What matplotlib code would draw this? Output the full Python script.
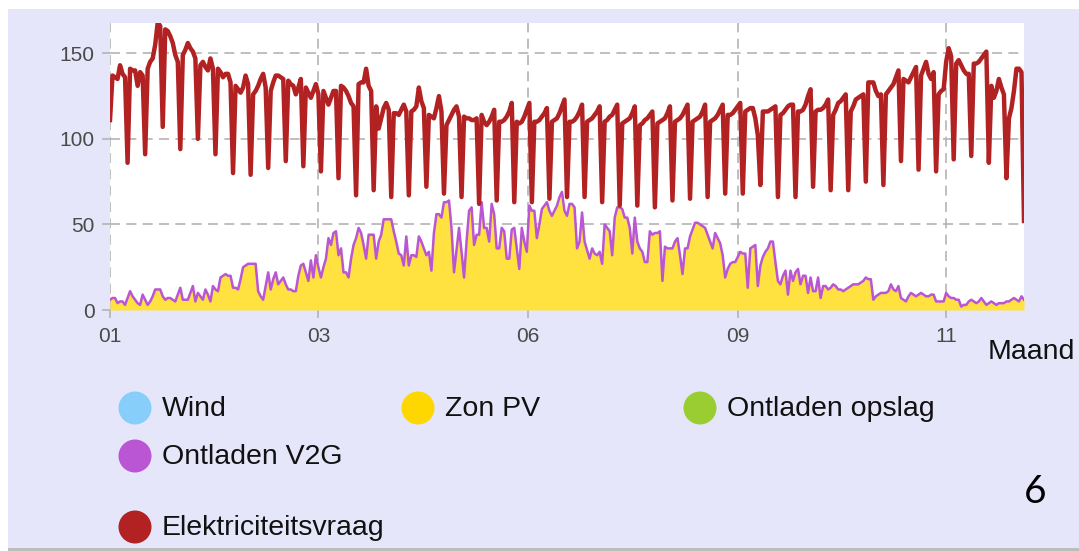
import matplotlib.pyplot as plt
from matplotlib.patches import Rectangle, Ellipse

W, H = 1079, 551

# electricity demand per day: day 0, then 52 weeks of 7 days (dip on the 7th day)
demand_day0 = [111]
demand_weeks = [
    [137, 136, 135, 143, 138, 136, 86],
    [141, 140, 140, 131, 139, 137, 91],
    [141, 145, 147, 155, 168, 166, 107],
    [164, 163, 160, 156, 149, 145, 94],
    [149, 152, 156, 153, 151, 147, 100],
    [143, 145, 142, 140, 147, 141, 91],
    [141, 139, 136, 138, 138, 133, 80],
    [131, 129, 127, 130, 137, 132, 79],
    [126, 128, 131, 135, 138, 130, 83],
    [128, 133, 137, 137, 136, 135, 87],
    [134, 132, 131, 126, 130, 135, 84],
    [130, 127, 124, 128, 132, 126, 81],
    [128, 124, 120, 124, 128, 128, 77],
    [131, 130, 128, 125, 121, 119, 67],
    [132, 133, 133, 141, 131, 128, 70],
    [119, 106, 112, 118, 121, 117, 66],
    [115, 115, 114, 117, 120, 116, 67],
    [116, 117, 119, 130, 122, 118, 72],
    [114, 113, 112, 118, 125, 116, 68],
    [108, 111, 114, 117, 119, 113, 66],
    [113, 112, 112, 111, 111, 112, 62],
    [114, 110, 108, 110, 113, 117, 64],
    [110, 110, 111, 113, 116, 121, 63],
    [110, 109, 110, 113, 117, 121, 63],
    [110, 110, 111, 113, 115, 118, 65],
    [110, 111, 112, 115, 119, 123, 66],
    [110, 110, 111, 113, 116, 120, 66],
    [110, 111, 112, 114, 116, 119, 63],
    [110, 111, 113, 114, 117, 120, 61],
    [109, 110, 111, 112, 115, 119, 61],
    [108, 109, 111, 112, 114, 116, 60],
    [109, 110, 111, 112, 115, 119, 64],
    [110, 111, 112, 114, 117, 120, 65],
    [110, 111, 112, 113, 116, 120, 66],
    [110, 111, 112, 114, 117, 120, 68],
    [114, 114, 115, 117, 119, 121, 68],
    [116, 117, 118, 118, 112, 102, 73],
    [116, 116, 116, 117, 118, 119, 66],
    [114, 115, 117, 119, 120, 120, 66],
    [116, 116, 117, 120, 125, 129, 72],
    [116, 117, 117, 118, 120, 123, 70],
    [114, 117, 121, 122, 124, 126, 70],
    [116, 119, 123, 124, 125, 126, 75],
    [133, 133, 133, 128, 125, 126, 73],
    [126, 128, 130, 132, 136, 140, 87],
    [135, 134, 133, 136, 139, 142, 82],
    [137, 141, 145, 138, 135, 139, 81],
    [126, 128, 129, 145, 153, 148, 88],
    [144, 146, 143, 140, 138, 138, 90],
    [144, 144, 145, 147, 149, 151, 86],
    [131, 124, 128, 135, 130, 126, 77],
    [112, 118, 128, 141, 141, 139, 52],
]

# solar PV per day (10 days per row)
zon_pv = [
    6, 7, 7, 4, 5, 5, 3, 7, 11, 8,
    6, 4, 3, 9, 6, 3, 5, 8, 12, 12,
    12, 8, 6, 7, 7, 6, 5, 9, 13, 6,
    6, 6, 10, 14, 5, 10, 8, 6, 12, 9,
    5, 14, 12, 11, 19, 20, 21, 20, 20, 13,
    13, 12, 18, 25, 26, 27, 27, 27, 27, 11,
    8, 6, 14, 22, 12, 18, 22, 15, 17, 19,
    15, 12, 12, 11, 11, 20, 26, 27, 22, 17,
    29, 19, 32, 25, 19, 25, 30, 42, 38, 45,
    46, 32, 36, 22, 22, 19, 30, 38, 42, 48,
    45, 38, 30, 44, 44, 44, 30, 40, 44, 53,
    53, 53, 53, 46, 40, 33, 32, 26, 43, 26,
    32, 32, 31, 43, 40, 36, 32, 34, 23, 45,
    56, 56, 54, 63, 63, 64, 48, 22, 35, 48,
    34, 19, 40, 58, 60, 38, 44, 44, 63, 48,
    48, 40, 62, 56, 36, 36, 48, 46, 30, 30,
    47, 48, 36, 24, 48, 40, 34, 61, 58, 58,
    42, 50, 59, 61, 63, 58, 55, 58, 61, 66,
    69, 58, 55, 62, 62, 60, 36, 40, 57, 40,
    35, 30, 36, 33, 32, 34, 27, 50, 48, 46,
    32, 54, 60, 60, 59, 54, 54, 48, 33, 54,
    40, 36, 34, 28, 28, 46, 44, 45, 45, 46,
    17, 37, 36, 36, 36, 40, 42, 32, 21, 36,
    36, 43, 47, 51, 51, 50, 49, 48, 44, 40,
    36, 45, 42, 39, 32, 19, 24, 27, 28, 28,
    31, 34, 33, 33, 13, 36, 37, 38, 14, 26,
    31, 34, 36, 40, 40, 28, 17, 15, 20, 23,
    9, 23, 17, 22, 24, 15, 20, 20, 10, 19,
    11, 11, 19, 7, 14, 14, 12, 13, 15, 14,
    12, 12, 11, 12, 13, 14, 15, 15, 15, 16,
    17, 19, 18, 18, 6, 8, 9, 10, 10, 10,
    11, 15, 12, 11, 14, 7, 6, 5, 8, 10,
    9, 8, 9, 10, 9, 8, 8, 9, 9, 5,
    5, 5, 5, 10, 8, 7, 7, 6, 6, 2,
    3, 3, 5, 6, 5, 4, 5, 7, 5, 3,
    4, 5, 4, 3, 4, 4, 4, 5, 5, 6,
    7, 6, 5, 8, 6,
]
ontladen_v2g = [0] * len(zon_pv)

tick_days = [0, 83, 166.5, 250, 333]
tick_labels = ['01', '03', '06', '09', '11']
y_ticks = [0, 50, 100, 150]

legend_labels = ['Wind', 'Zon PV', 'Ontladen opslag', 'Ontladen V2G', 'Elektriciteitsvraag']
legend_colors = ['#87CEFA', '#FFD700', '#9ACD32', '#BA55D3', '#B22222']

demand = demand_day0 + [v for week in demand_weeks for v in week]
days = list(range(len(demand)))
v2g_top = [p + v for p, v in zip(zon_pv, ontladen_v2g)]

fig = plt.figure(figsize=(W / 100, H / 100), dpi=100, facecolor='white')

# background layer in pixel coordinates
bg = fig.add_axes([0, 0, 1, 1], zorder=0)
bg.set_xlim(0, W)
bg.set_ylim(H, 0)
bg.axis('off')
bg.add_patch(Rectangle((8, 9), W - 8, 539, facecolor='#E6E6FA', edgecolor='none'))
bg.add_patch(Rectangle((8, 548), W - 8, 3, facecolor='#BDBDBD', edgecolor='none'))

# main chart
ax = fig.add_axes([110 / W, (H - 310) / H, 914 / W, 287.5 / H], zorder=1)
ax.set_facecolor('white')
ax.fill_between(days, 0, zon_pv, color='#FFE140', lw=0, zorder=2)
ax.plot(days, v2g_top, color=legend_colors[3], lw=1.8, zorder=3)
ax.plot(days, demand, color=legend_colors[4], lw=3.2, zorder=4)

ax.set_xlim(0, 364)
ax.set_ylim(0, 168)
ax.set_xticks(tick_days)
ax.set_xticklabels(tick_labels)
ax.set_yticks(y_ticks)
for s in ax.spines.values():
    s.set_visible(False)
ax.grid(color='#b4b4b4', ls=(0, (6, 3.8)), lw=1.2, zorder=1)
ax.set_axisbelow(True)
ax.tick_params(axis='both', colors='#b4b4b4', labelcolor='#4a4a4a', labelsize=15,
               length=6, width=1.2)
ax.tick_params(axis='y', pad=5)
ax.tick_params(axis='x', pad=6)
for lab in ax.get_xticklabels() + ax.get_yticklabels():
    lab.set_fontfamily('Liberation Sans')

bg.text(1075, 352, 'Maand', fontsize=20.5, family='Liberation Sans', color='#111111',
        ha='right', va='center')

# legend
legend_pos = [(135, 408), (418, 408), (700, 408), (135, 456), (135, 527)]
for (x, y), lab, col in zip(legend_pos, legend_labels, legend_colors):
    bg.add_patch(Ellipse((x, y), 33, 33, facecolor=col, edgecolor='none'))
    bg.text(x + 27, y + 1, lab, fontsize=20.5, family='Liberation Sans', color='#111111',
            ha='left', va='center')

bg.text(1035, 492, '6', fontsize=28, family='Lato', color='black', ha='center', va='center')

fig.savefig('out.png', dpi=100, facecolor='white')
